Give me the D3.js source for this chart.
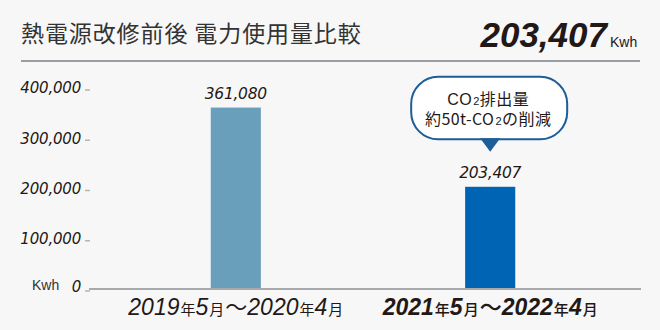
<!DOCTYPE html>
<html><head><meta charset="utf-8">
<script src="https://cdn.jsdelivr.net/npm/d3@7"></script>
<style>
html,body{margin:0;padding:0;background:#f7f7f7;}
svg{display:block;}
</style></head>
<body>
<svg id="chart" width="660" height="330"></svg>
<script>
// ---- data ----
const categories = ["2019年5月〜2020年4月", "2021年5月〜2022年4月"];
const labelParts = [
  [["2019","d"],["年","c"],["5","d"],["月","c"],["〜","t"],["2020","d"],["年","c"],["4","d"],["月","c"]],
  [["2021","d"],["年","c"],["5","d"],["月","c"],["〜","t"],["2022","d"],["年","c"],["4","d"],["月","c"]]
];
const values = [361080, 203407];
const barColors = ["#6a9fbb", "#0064b5"];
const yTicks = [0, 100000, 200000, 300000, 400000];
const titleText = "熱電源改修前後 電力使用量比較";
const totalText = "203,407";
const unitText = "Kwh";
const calloutLines = [[["CO","n"],["2","s"],["排出量","n"]], [["約50t-CO","n"],["2","s"],["の削減","n"]]];

const svg = d3.select("#chart");
const ink = "#231815";
const latin = "'Liberation Sans', Arial, sans-serif";
const cjk = "'Noto Sans CJK JP', 'Noto Sans', sans-serif";

svg.append("rect").attr("width",660).attr("height",330).attr("fill","#f7f7f7");

// header
svg.append("text").attr("x",21).attr("y",41.5)
  .attr("font-family",cjk).attr("font-size",23).attr("fill","#333")
  .attr("letter-spacing",0.9)
  .text(titleText);
svg.append("text").attr("x",607).attr("y",46.5).attr("text-anchor","end")
  .attr("font-family",latin).attr("font-size",35).attr("font-weight","bold").attr("font-style","italic")
  .attr("fill",ink).text(totalText);
svg.append("text").attr("x",610).attr("y",46.5)
  .attr("font-family",latin).attr("font-size",14).attr("fill",ink).text(unitText);
svg.append("line").attr("x1",21).attr("x2",640).attr("y1",61).attr("y2",61)
  .attr("stroke","#9a9ea3").attr("stroke-width",2);

// scales
const x = d3.scaleBand().domain(categories).range([109,617]).paddingInner(0.803).paddingOuter(0.4);
const y = d3.scaleLinear().domain([0,400000]).range([289,88]);
const fmt = d3.format(",");

// y axis
const yAxis = svg.append("g").attr("transform","translate(90,0)")
  .call(d3.axisLeft(y).tickValues(yTicks).tickSize(5).tickPadding(4).tickFormat(fmt));
yAxis.select(".domain").remove();
yAxis.selectAll(".tick line").attr("stroke","#b5b5b5").attr("stroke-width",1.5)
  .attr("transform","translate(0,1.5)");
yAxis.selectAll(".tick text").attr("font-family","'DejaVu Sans', sans-serif").attr("font-style","italic")
  .attr("font-size",15).attr("fill",ink).attr("dy","0.32em").attr("letter-spacing",-0.2);
yAxis.selectAll(".tick").filter(d=>d===0).select("text").attr("dy","0.15em");
svg.append("text").attr("x",32).attr("y",290)
  .attr("font-family",latin).attr("font-size",14).attr("fill","#333").text(unitText);

// bars
svg.selectAll("rect.bar").data(values).enter().append("rect").attr("class","bar")
  .attr("x",(d,i)=>x(categories[i])).attr("width",x.bandwidth())
  .attr("y",d=>y(d)).attr("height",d=>y(0)-y(d))
  .attr("fill",(d,i)=>barColors[i]);

// x axis line
svg.append("line").attr("x1",89).attr("x2",641).attr("y1",y(0)).attr("y2",y(0))
  .attr("stroke","#a7a9ac").attr("stroke-width",2);

// value labels
svg.selectAll("text.val").data(values).enter().append("text").attr("class","val")
  .attr("x",(d,i)=>x(categories[i])+x.bandwidth()/2).attr("y",d=>y(d)-9)
  .attr("text-anchor","middle").attr("font-family","'DejaVu Sans', sans-serif")
  .attr("font-style","italic").attr("font-size",15.5).attr("fill",ink).attr("letter-spacing",-0.3)
  .text(d=>fmt(d));

// x category labels
categories.forEach((c,i)=>{
  const t = svg.append("text").attr("x",x(c)+x.bandwidth()/2).attr("y",315)
    .attr("text-anchor","middle").attr("fill",ink);
  labelParts[i].forEach(([s,k])=>{
    const sp = t.append("tspan").text(s);
    if(k==="d") sp.attr("font-family",latin).attr("font-style","italic").attr("font-size",23)
      .attr("font-weight", i===1 ? "bold" : "normal");
    else if(k==="c") sp.attr("font-family",cjk).attr("font-size",15).attr("dx",1)
      .attr("font-weight", i===1 ? 500 : "normal");
    else sp.attr("font-family",cjk).attr("font-size",22).attr("dx",1)
      .attr("font-weight", i===1 ? 500 : "normal");
  });
});

// callout over bar 2
const cx = x(categories[1]) + x.bandwidth()/2;
const tipY = y(values[1]) - 35;
const bBottom = tipY - 12.5, bTop = bBottom - 62.5;
const bW = 156;
const callout = svg.append("g");
callout.append("rect").attr("x",cx-bW/2-1).attr("y",bTop).attr("width",bW).attr("height",bBottom-bTop)
  .attr("rx",27).attr("ry",27).attr("fill","#fff").attr("stroke","#1d5d98").attr("stroke-width",2);
callout.append("path")
  .attr("d",`M${cx-10},${bBottom-1}L${cx+10},${bBottom-1}L${cx},${tipY}Z`)
  .attr("fill","#1d5d98");
const ct = callout.append("text").attr("text-anchor","middle").attr("fill",ink)
  .attr("font-size",16).attr("letter-spacing",0.4);
calloutLines.forEach((line,li)=>{
  const lt = ct.append("tspan").attr("x",cx-2).attr("y",bTop+28.5+li*20);
  line.forEach(([s,k])=>{
    const sp = lt.append("tspan").text(s);
    if(k==="s") sp.attr("font-family",latin).attr("font-size",11).attr("dx",1.2);
    else sp.attr("font-family", /^[A-Za-z0-9\-]/.test(s) ? latin : cjk);
  });
});
</script>
</body></html>
